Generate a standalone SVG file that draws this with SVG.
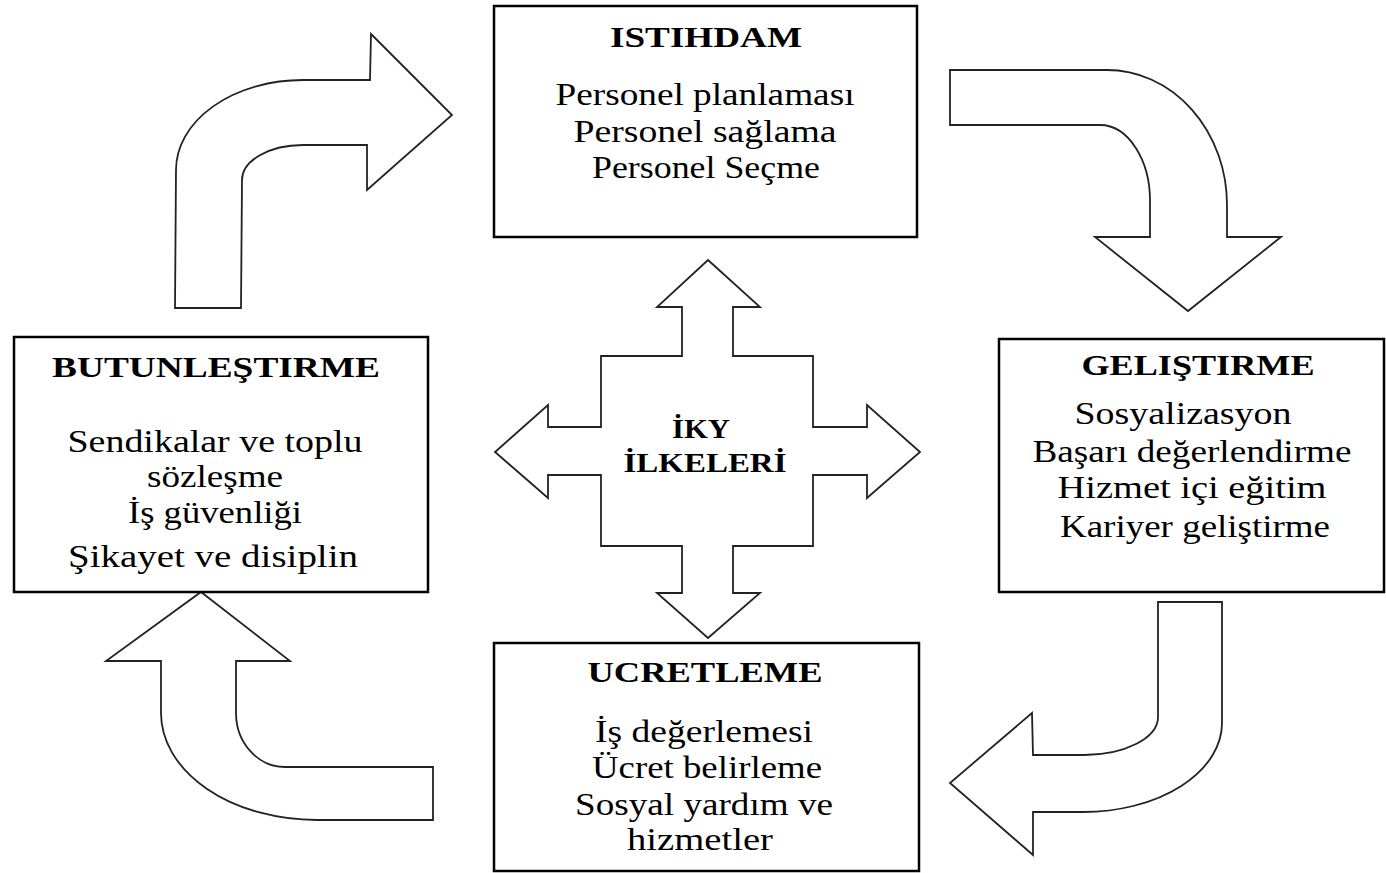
<svg xmlns="http://www.w3.org/2000/svg" width="1386" height="873" viewBox="0 0 1386 873">
<style>
.box{fill:#fff;stroke:#000;stroke-width:2.5}
.arr{fill:#fff;stroke:#222;stroke-width:1.8;stroke-linejoin:miter}
text{font-family:"Liberation Serif","Times New Roman",serif;fill:#000;text-anchor:middle}
.t{font-weight:bold;font-size:30px}
.b{font-size:31px}
.c{font-weight:bold;font-size:27px}
</style>
<rect width="1386" height="873" fill="#fff"/>
<g id="connectors">
<path class="arr" d="M 175 308 L 176 170 A 127 90 0 0 1 303 80 L 370 80 L 371 34 L 452 115 L 367 190 L 367 145 L 303 145 A 61 35 0 0 0 242 180 L 241 308 Z"/>
<path class="arr" d="M 950 70 L 1107 70 A 120 135 0 0 1 1227 205 L 1227 237 L 1281 237 L 1188 311 L 1095 237 L 1150 237 L 1150 203 A 50 76 0 0 0 1100 125 L 950 125 Z"/>
<path class="arr" d="M 1158 602 L 1222 602 L 1222 723 A 139 89 0 0 1 1083 812 L 1033 812 L 1033 855 L 950 783 L 1032 713 L 1033 755 L 1083 755 A 74 38 0 0 0 1158 717 Z"/>
<path class="arr" d="M 201 592 L 290 661 L 236 661 L 236 713 A 49 54 0 0 0 285 767 L 433 767 L 433 820 L 317 820 A 156 107 0 0 1 161 713 L 161 661 L 106 661 Z"/>
</g>
<g id="iky">
<path class="arr" d="M 708 260 L 760 307 L 733 307 L 733 356 L 813 356 L 813 427 L 867 427 L 867 405 L 920 452 L 867 498 L 867 475 L 813 475 L 813 546 L 733 546 L 733 593 L 760 593 L 708 638 L 657 593 L 682 593 L 682 546 L 601 546 L 601 475 L 548 475 L 548 498 L 495 452 L 548 405 L 548 427 L 601 427 L 601 356 L 682 356 L 682 307 L 657 307 Z"/>
<text class="c" x="701" y="438" textLength="58" lengthAdjust="spacingAndGlyphs">İKY</text>
<text class="c" x="705" y="472" textLength="163" lengthAdjust="spacingAndGlyphs">İLKELERİ</text>
</g>
<g id="istihdam">
<rect class="box" x="494" y="6" width="423" height="231"/>
<text class="t" x="706" y="47" textLength="192" lengthAdjust="spacingAndGlyphs">ISTIHDAM</text>
<text class="b" x="705" y="105" textLength="299" lengthAdjust="spacingAndGlyphs">Personel planlaması</text>
<text class="b" x="705" y="142" textLength="263" lengthAdjust="spacingAndGlyphs">Personel sağlama</text>
<text class="b" x="706" y="178" textLength="228" lengthAdjust="spacingAndGlyphs">Personel Seçme</text>
</g>
<g id="butunlestirme">
<rect class="box" x="14" y="337" width="414" height="255"/>
<text class="t" x="216" y="377" textLength="328" lengthAdjust="spacingAndGlyphs">BUTUNLEŞTIRME</text>
<text class="b" x="215" y="452" textLength="295" lengthAdjust="spacingAndGlyphs">Sendikalar ve toplu</text>
<text class="b" x="215" y="487" textLength="136" lengthAdjust="spacingAndGlyphs">sözleşme</text>
<text class="b" x="215" y="523" textLength="174" lengthAdjust="spacingAndGlyphs">İş güvenliği</text>
<text class="b" x="213" y="567" textLength="290" lengthAdjust="spacingAndGlyphs">Şikayet ve disiplin</text>
</g>
<g id="gelistirme">
<rect class="box" x="999" y="339" width="385" height="253"/>
<text class="t" x="1198" y="375" textLength="233" lengthAdjust="spacingAndGlyphs">GELIŞTIRME</text>
<text class="b" x="1183" y="424" textLength="217" lengthAdjust="spacingAndGlyphs">Sosyalizasyon</text>
<text class="b" x="1192" y="462" textLength="319" lengthAdjust="spacingAndGlyphs">Başarı değerlendirme</text>
<text class="b" x="1192" y="498" textLength="269" lengthAdjust="spacingAndGlyphs">Hizmet içi eğitim</text>
<text class="b" x="1195" y="537" textLength="270" lengthAdjust="spacingAndGlyphs">Kariyer geliştirme</text>
</g>
<g id="ucretleme">
<rect class="box" x="494" y="643" width="425" height="228"/>
<text class="t" x="705" y="682" textLength="235" lengthAdjust="spacingAndGlyphs">UCRETLEME</text>
<text class="b" x="704" y="742" textLength="218" lengthAdjust="spacingAndGlyphs">İş değerlemesi</text>
<text class="b" x="707" y="778" textLength="230" lengthAdjust="spacingAndGlyphs">Ücret belirleme</text>
<text class="b" x="704" y="815" textLength="258" lengthAdjust="spacingAndGlyphs">Sosyal yardım ve</text>
<text class="b" x="700" y="850" textLength="146" lengthAdjust="spacingAndGlyphs">hizmetler</text>
</g>
</svg>
